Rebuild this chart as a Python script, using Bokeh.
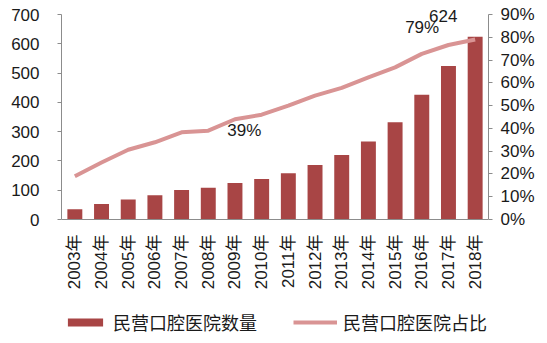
import math
from bokeh.plotting import figure
from bokeh.models import FactorRange, Range1d, LinearAxis, Legend, LegendItem, ColumnDataSource, NumeralTickFormatter, FixedTicker
from bokeh.core.properties import value
from bokeh.embed import file_html
from bokeh.resources import INLINE

years = ["2003年", "2004年", "2005年", "2006年", "2007年", "2008年", "2009年", "2010年",
         "2011年", "2012年", "2013年", "2014年", "2015年", "2016年", "2017年", "2018年"]
counts = [35, 53, 68, 83, 101, 108, 125, 138, 158, 186, 220, 266, 332, 426, 524, 624]
share = [0.19, 0.25, 0.306, 0.339, 0.383, 0.39, 0.44, 0.46, 0.50, 0.544, 0.578, 0.624, 0.668, 0.727, 0.766, 0.79]
left_ticks = [0, 100, 200, 300, 400, 500, 600, 700]
right_ticks = [0, 0.1, 0.2, 0.3, 0.4, 0.5, 0.6, 0.7, 0.8, 0.9]

FONT = "Liberation Sans, Noto Sans CJK SC"
BAR = "#A84545"
LINE = "#D99494"
AXIS = "#8C8C8C"
TXT = "#1a1a1a"

# frame spans the full height (0..343 px); value 0 sits at y=219, the top tick at y=14
H = 343
ZERO_Y = 219
TOP_Y = 14
LEFT_MAX = 700
RIGHT_MAX = 0.9
def span(vmax):
    per_px = vmax / (ZERO_Y - TOP_Y)
    return (-(H - ZERO_Y) * per_px, vmax + TOP_Y * per_px)

p = figure(width=547, height=H, x_range=FactorRange(*years), y_range=Range1d(*span(LEFT_MAX)),
           output_backend="svg", toolbar_location=None,
           min_border_left=61, min_border_right=59, min_border_top=0, min_border_bottom=0)
p.outline_line_color = None
p.xgrid.grid_line_color = None
p.ygrid.grid_line_color = None
p.x_range.range_padding = 0
p.extra_y_ranges = {"pct": Range1d(*span(RIGHT_MAX))}

src = ColumnDataSource(dict(x=years, c=counts, s=share))
bars = p.vbar(x="x", top="c", width=0.56, source=src, fill_color=BAR, line_color=None)
ln = p.line(x="x", y="s", source=src, y_range_name="pct", line_color=LINE, line_width=4)

ya = p.yaxis[0]
ya.ticker = FixedTicker(ticks=left_ticks)
ya.bounds = (0, LEFT_MAX)
ya.axis_line_color = AXIS
ya.major_tick_line_color = AXIS
ya.major_tick_in = 0
ya.major_tick_out = 4
ya.minor_tick_line_color = None
ya.major_label_standoff = 18
ya.major_label_text_font = FONT
ya.major_label_text_font_size = "17px"
ya.major_label_text_color = TXT

ra = LinearAxis(y_range_name="pct", ticker=FixedTicker(ticks=right_ticks),
                formatter=NumeralTickFormatter(format="0%"), bounds=(0, RIGHT_MAX))
ra.axis_line_color = AXIS
ra.major_tick_line_color = AXIS
ra.major_tick_in = 0
ra.major_tick_out = 4
ra.minor_tick_line_color = None
ra.major_label_standoff = 8
ra.major_label_text_font = FONT
ra.major_label_text_font_size = "17px"
ra.major_label_text_color = TXT
p.add_layout(ra, "right")

xa = p.xaxis[0]
xa.fixed_location = 0
xa.axis_line_color = AXIS
xa.major_tick_line_color = None
xa.minor_tick_line_color = None
xa.major_label_orientation = math.pi / 2
xa.major_label_standoff = 9
xa.major_label_text_font = FONT
xa.major_label_text_font_size = "17px"
xa.major_label_text_color = TXT

i08 = years.index("2008年")
i18 = years.index("2018年")
p.text(x=[years[i08]], y=[share[i08]], text=["39%"], y_range_name="pct",
       x_offset=36, y_offset=0, text_align="center", text_baseline="middle",
       text_font=value(FONT), text_font_size="17px", text_color=TXT)
p.text(x=[years[i18]], y=[share[i18]], text=["79%"], y_range_name="pct",
       x_offset=-53, y_offset=-12, text_align="center", text_baseline="middle",
       text_font=value(FONT), text_font_size="17px", text_color=TXT)
p.text(x=[years[i18]], y=[counts[i18]], text=["624"],
       x_offset=-32, y_offset=-21, text_align="center", text_baseline="middle",
       text_font=value(FONT), text_font_size="17px", text_color=TXT)

legend = Legend(items=[LegendItem(label="民营口腔医院数量", renderers=[bars]),
                       LegendItem(label="民营口腔医院占比", renderers=[ln])],
                orientation="horizontal", location=(2, 8),
                glyph_width=44, glyph_height=10, spacing=36, label_standoff=6,
                label_text_font=FONT, label_text_font_size="18px", label_text_color=TXT,
                background_fill_alpha=0, border_line_color=None, padding=0, margin=0)
p.add_layout(legend, "center")

open("out.html", "w").write(file_html(p, INLINE))
